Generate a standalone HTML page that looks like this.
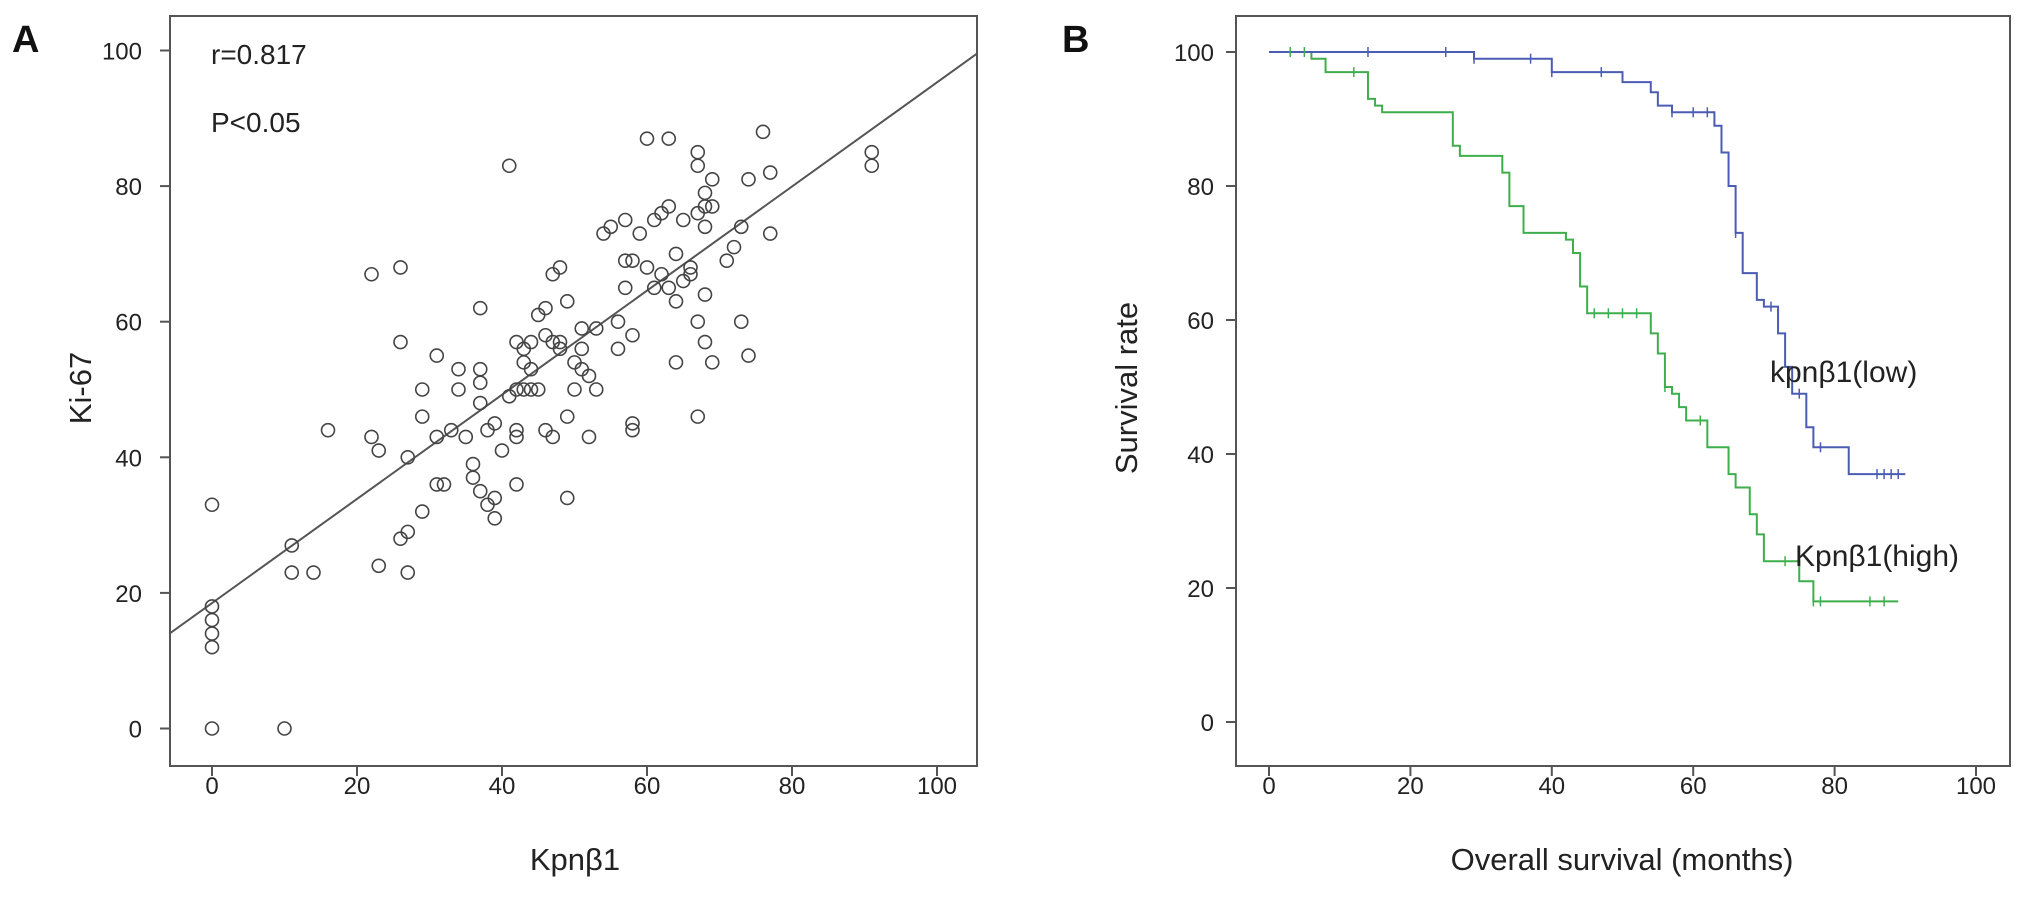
<!DOCTYPE html>
<html><head><meta charset="utf-8"><style>
html,body{margin:0;padding:0;background:#fff;}
svg{display:block;font-family:"Liberation Sans",Arial,sans-serif;}
</style></head><body>
<svg id="fig" width="2031" height="899" viewBox="0 0 2031 899">
<g id="pa"></g>
<g id="pb"></g>
</svg>
<script>
// Panel A data
const kpnValues = [0,0,0,0,0,0,10,11,11,14,16,22,22,23,23,26,26,26,27,27,27,29,29,29,31,31,31,32,33,34,34,35,36,36,37,37,37,37,37,38,38,39,39,39,40,41,41,42,42,42,42,42,43,43,43,44,44,44,45,45,46,46,46,47,47,47,48,48,48,49,49,49,50,50,51,51,51,52,52,53,53,54,55,56,56,57,57,57,58,58,58,58,59,60,60,61,61,62,62,63,63,63,64,64,64,65,65,66,66,67,67,67,67,67,68,68,68,68,68,69,69,69,71,72,73,73,74,74,76,77,77,91,91];
const ki67Values = [33,18,16,14,12,0,0,27,23,23,44,67,43,41,24,68,57,28,29,23,40,50,46,32,55,43,36,36,44,53,50,43,39,37,62,53,51,48,35,44,33,45,34,31,41,83,49,57,50,44,43,36,56,54,50,57,53,50,61,50,62,58,44,67,57,43,68,57,56,63,46,34,54,50,59,56,53,52,43,59,50,73,74,56,60,75,69,65,69,58,45,44,73,87,68,75,65,76,67,87,77,65,70,63,54,75,66,68,67,85,83,76,60,46,79,77,74,64,57,81,77,54,69,71,74,60,81,55,88,82,73,85,83];
const aTicks = [0,20,40,60,80,100];
const fitLine = [18.5, 0.768]; // intercept, slope
// Panel B data
const lowTimes = [0,29,40,50,54,55,57,63,64,65,66,67,69,70,72,73,74,76,77,82,90];
const lowSurv  = [100,99,97,95.5,94,92,91,89,85,80,73,67,63,62,58,53,49,44,41,37,37];
const lowCensor = [14,25,29,37,40,47,57,60,62,66,71,75,78,86,87,88,89];
const highTimes = [0,6,8,14,15,16,26,27,33,34,36,42,43,44,45,54,55,56,57,58,59,62,65,66,68,69,70,75,77,89];
const highSurv  = [100,99,97,93,92,91,86,84.5,82,77,73,72,70,65,61,58,55,50,49,47,45,41,37,35,31,28,24,21,18,18];
const highCensor = [3,5,12,46,48,50,52,56,61,73,77,78,85,87];
const bTicks = [0,20,40,60,80,100];

const NS='http://www.w3.org/2000/svg';
function mk(parent,tag,attrs,text){const e=document.createElementNS(NS,tag);for(const k in attrs)e.setAttribute(k,attrs[k]);if(text!==undefined)e.textContent=text;parent.appendChild(e);return e;}

// ---- Panel A
const pa=document.getElementById('pa');
const ax=v=>212+v*7.25, ay=v=>728.5-v*6.78;
let e;
e=mk(pa,'rect',{x:170,y:16,width:807,height:750,fill:'none',stroke:'#555','stroke-width':2});


aTicks.forEach(t=>{
  e=mk(pa,'line',{x1:ax(t),x2:ax(t),y1:766,y2:776,stroke:'#555','stroke-width':2});
  
  
  e=mk(pa,'text',{x:ax(t),y:794,'font-size':24,'text-anchor':'middle',fill:'#222'},t);
  
  
  e=mk(pa,'line',{x1:160,x2:170,y1:ay(t),y2:ay(t),stroke:'#555','stroke-width':2});
  
  
  e=mk(pa,'text',{x:142,y:ay(t)+9,'font-size':24,'text-anchor':'end',fill:'#222'},t);
  
  
});
const x0=-5.9,x1=105.5;
e=mk(pa,'line',{x1:ax(x0),y1:ay(fitLine[0]+fitLine[1]*x0),x2:ax(x1),y2:ay(fitLine[0]+fitLine[1]*x1),stroke:'#555','stroke-width':2});


kpnValues.forEach((v,i)=>{
  e=mk(pa,'circle',{cx:ax(v),cy:ay(ki67Values[i]),r:6.5,fill:'none',stroke:'#444','stroke-width':1.6});
  
  
});
e=mk(pa,'text',{x:211,y:64,'font-size':28,fill:'#222'},'r=0.817');


e=mk(pa,'text',{x:211,y:132,'font-size':28,fill:'#222'},'P<0.05');


e=mk(pa,'text',{x:575,y:870,'font-size':31,'text-anchor':'middle',fill:'#222'},'Kpnβ1');


e=mk(pa,'text',{x:0,y:0,'font-size':31,'text-anchor':'middle',fill:'#222',transform:'translate(91,388) rotate(-90)'},'Ki-67');


e=mk(pa,'text',{x:12,y:52,'font-size':38,'font-weight':'bold',fill:'#111'},'A');



// ---- Panel B
const pb=document.getElementById('pb');
const bx=v=>1269+v*7.07, by=v=>722-v*6.7;
e=mk(pb,'rect',{x:1236,y:16,width:774,height:750,fill:'none',stroke:'#555','stroke-width':2});


bTicks.forEach(t=>{
  e=mk(pb,'line',{x1:bx(t),x2:bx(t),y1:766,y2:776,stroke:'#555','stroke-width':2});
  
  
  e=mk(pb,'text',{x:bx(t),y:794,'font-size':24,'text-anchor':'middle',fill:'#222'},t);
  
  
  e=mk(pb,'line',{x1:1226,x2:1236,y1:by(t),y2:by(t),stroke:'#555','stroke-width':2});
  
  
  e=mk(pb,'text',{x:1214,y:by(t)+9,'font-size':24,'text-anchor':'end',fill:'#222'},t);
  
  
});
function stepPath(ts,ss){let d='M'+bx(ts[0])+','+by(ss[0]);for(let i=1;i<ts.length;i++){d+=' H'+bx(ts[i])+' V'+by(ss[i]);}return d;}
function survAt(ts,ss,t){let s=ss[0];for(let i=0;i<ts.length;i++){if(ts[i]<=t)s=ss[i];}return s;}
e=mk(pb,'path',{d:stepPath(highTimes,highSurv),fill:'none',stroke:'#3fae4c','stroke-width':2});


e=mk(pb,'path',{d:stepPath(lowTimes,lowSurv),fill:'none',stroke:'#4b5cb3','stroke-width':2});


lowCensor.forEach(t=>{const y=by(survAt(lowTimes,lowSurv,t));
  e=mk(pb,'line',{x1:bx(t),x2:bx(t),y1:y-5,y2:y+5,stroke:'#4b5cb3','stroke-width':1.5});
  
  });
highCensor.forEach(t=>{const y=by(survAt(highTimes,highSurv,t));
  e=mk(pb,'line',{x1:bx(t),x2:bx(t),y1:y-5,y2:y+5,stroke:'#3fae4c','stroke-width':1.5});
  
  });
e=mk(pb,'text',{x:1770,y:382,'font-size':30,fill:'#222'},'kpnβ1(low)');


e=mk(pb,'text',{x:1795,y:566,'font-size':30,fill:'#222'},'Kpnβ1(high)');


e=mk(pb,'text',{x:1622,y:870,'font-size':31,'text-anchor':'middle',fill:'#222'},'Overall survival (months)');


e=mk(pb,'text',{x:0,y:0,'font-size':31,'text-anchor':'middle',fill:'#222',transform:'translate(1137,388) rotate(-90)'},'Survival rate');


e=mk(pb,'text',{x:1062,y:52,'font-size':38,'font-weight':'bold',fill:'#111'},'B');


</script>
</body></html>
